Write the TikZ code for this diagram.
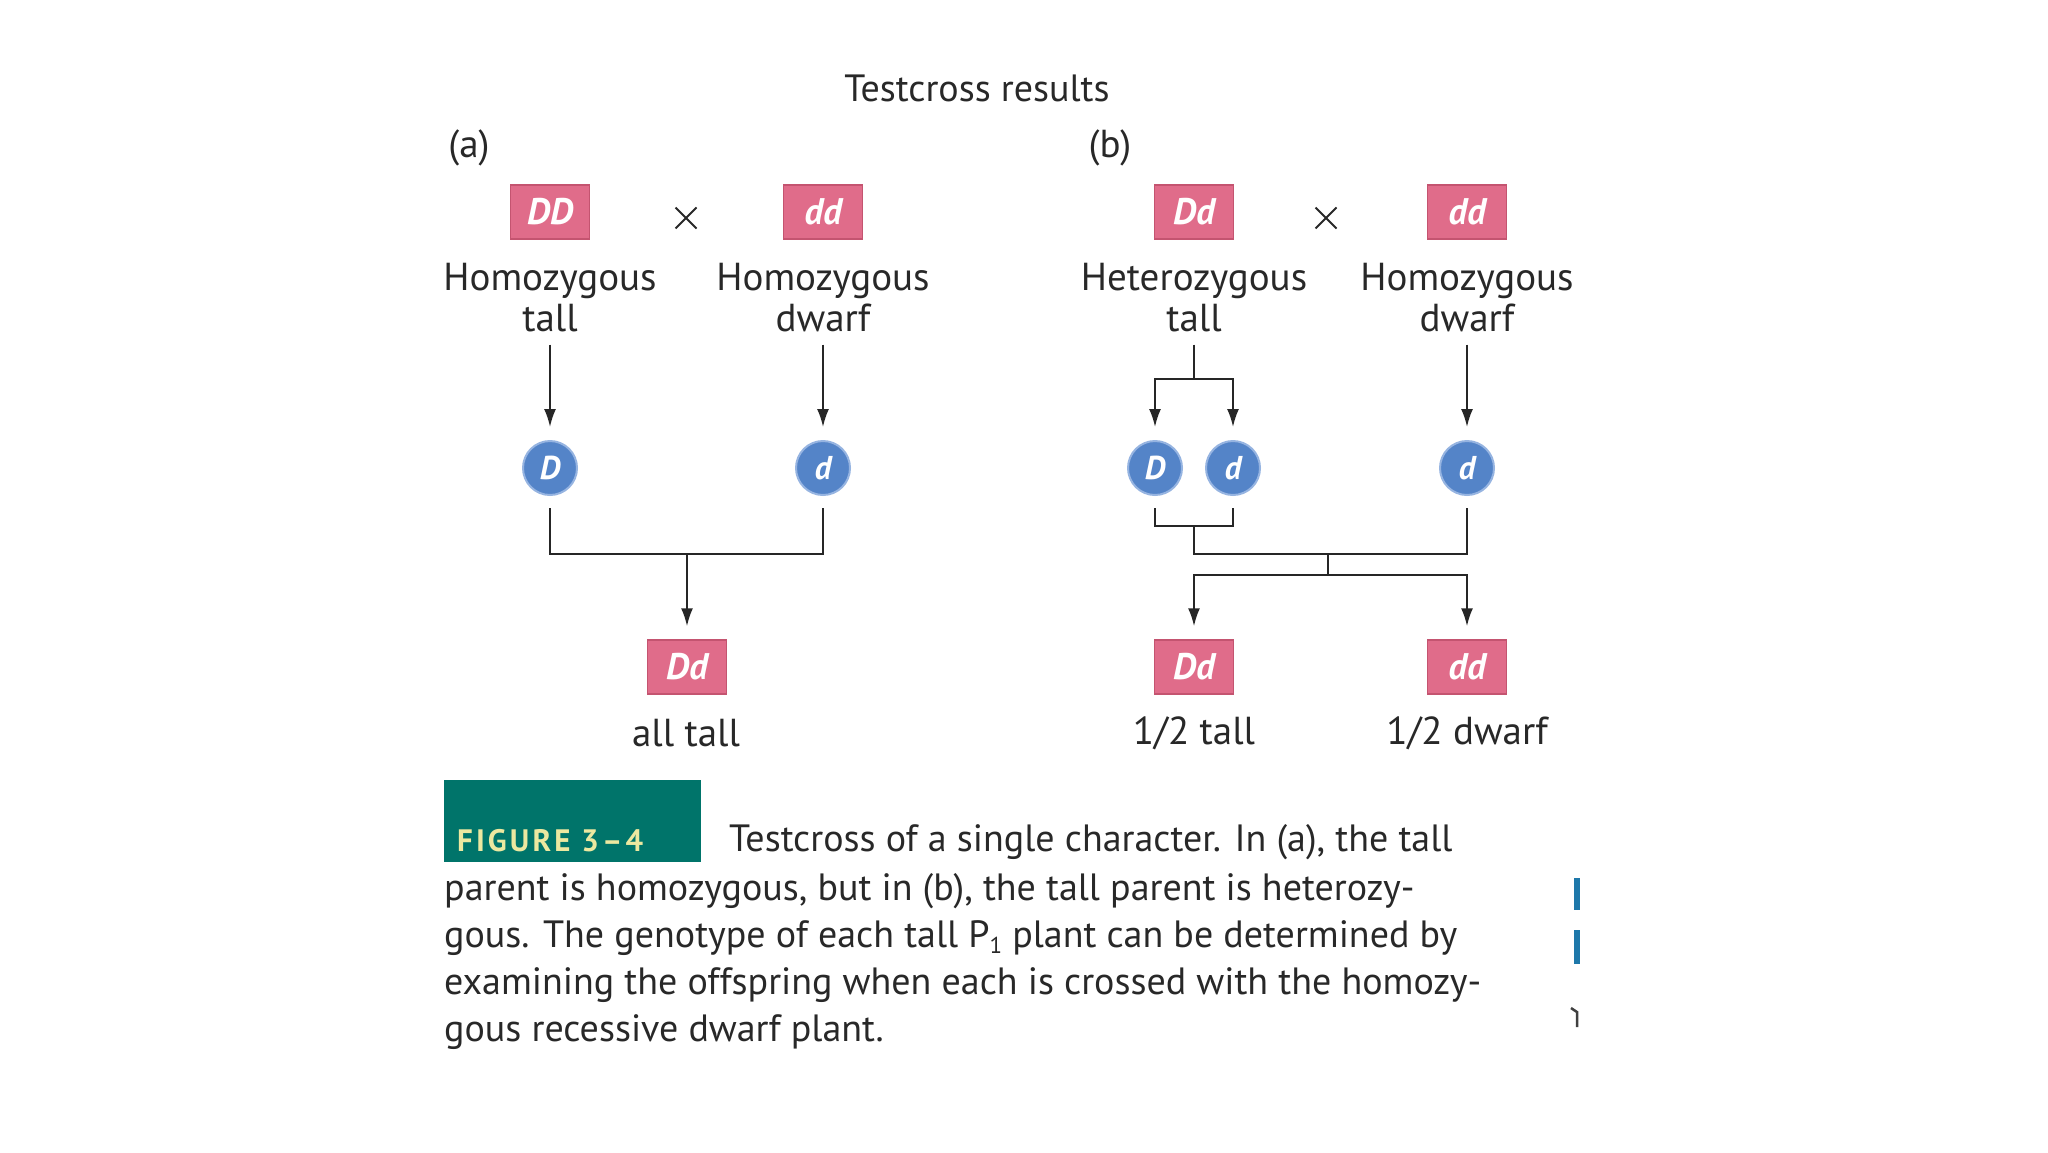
\documentclass[tikz,border=0pt]{standalone}
\usepackage{fontspec}
\setmainfont{PT Sans}
\newfontfamily\capfont{PT Sans}
\newfontfamily\figfont{PT Sans}[LetterSpace=10]
\usetikzlibrary{arrows.meta,shapes.misc}
\definecolor{pinkc}{RGB}{224,108,138}
\definecolor{pinkd}{RGB}{196,84,112}
\definecolor{bluec}{RGB}{84,132,200}
\definecolor{bluel}{RGB}{150,180,225}
\definecolor{tealc}{RGB}{0,116,106}
\definecolor{figy}{RGB}{236,232,160}
\definecolor{txt}{RGB}{40,40,40}
\definecolor{edgeb}{RGB}{30,120,170}
\begin{document}
\begin{tikzpicture}[x=1pt,y=-1pt,
 gbox/.style={fill=pinkc,draw=pinkd,line width=1.5pt,minimum width=79pt,minimum height=54pt,inner sep=0pt,text=white,font=\fontsize{37}{37}\selectfont\bfseries\itshape},
 allele/.style={circle,fill=bluec,draw=bluel,line width=2pt,minimum size=54pt,inner sep=0pt,text=white,font=\fontsize{33}{33}\selectfont\bfseries\itshape},
 lbl/.style={align=center,inner sep=0pt,text=txt,font=\fontsize{39}{41}\selectfont},
 crs/.style={cross out,draw=txt,line width=2pt,minimum size=19pt,inner sep=0pt},
 conn/.style={line width=2pt,draw=black!85},
 arr/.style={conn,-{Latex[length=18pt,width=12pt]}},
 capl/.style={anchor=base west,inner sep=0pt,text=txt,font=\capfont\fontsize{38}{47}\selectfont}
]
\path[use as bounding box,fill=white] (0,0) rectangle (2048,1152);

\node[lbl,font=\fontsize{38}{38}\selectfont] (title) at (977,88) {Testcross results};
\node[lbl] (la) at (469,148) {(a)};
\node[lbl] (lb) at (1110,148) {(b)};

% (a)
\node[gbox] (aDD) at (550,212) {DD};
\node[crs] (ax) at (686,218) {};
\node[gbox] (add) at (823,212) {dd};
\node[lbl] (aP1) at (550,298) {Homozygous\\tall};
\node[lbl] (aP2) at (823,298) {Homozygous\\dwarf};
\node[allele] (aD) at (550,468) {D};
\node[allele] (ad) at (823,468) {d};
\coordinate (aJ) at (687,554);
\node[gbox] (aDd) at (687,667) {Dd};
\node[lbl] (aR) at (686,733) {all tall};
\draw[arr,shorten <=12pt,shorten >=13pt] (aP1) -- (aD);
\draw[arr,shorten <=12pt,shorten >=13pt] (aP2) -- (ad);
\draw[conn,shorten <=12pt,shorten >=12pt] (aD) |- (aJ) -| (ad);
\draw[arr,shorten >=13pt] (aJ) -- (aDd);

% (b)
\node[gbox] (bDd) at (1194,212) {Dd};
\node[crs] (bx) at (1326,218) {};
\node[gbox] (bdd) at (1467,212) {dd};
\node[lbl] (bP1) at (1194,298) {Heterozygous\\tall};
\node[lbl] (bP2) at (1467,298) {Homozygous\\dwarf};
\coordinate (bS) at (1194,379);
\node[allele] (bD) at (1155,468) {D};
\node[allele] (bd) at (1233,468) {d};
\node[allele] (bd2) at (1467,468) {d};
\coordinate (bM) at (1194,526);
\coordinate (bJ) at (1328,554);
\coordinate (bK) at (1328,575);
\node[gbox] (bODd) at (1194,667) {Dd};
\node[gbox] (bOdd) at (1467,667) {dd};
\node[lbl] (bR1) at (1194,733) {1/2 tall};
\node[lbl] (bR2) at (1467,733) {1/2 dwarf};
\draw[conn,shorten <=12pt] (bP1) -- (bS);
\draw[arr,shorten >=13pt] (bS) -| (bD);
\draw[arr,shorten >=13pt] (bS) -| (bd);
\draw[arr,shorten <=12pt,shorten >=13pt] (bP2) -- (bd2);
\draw[conn,shorten <=12pt,shorten >=12pt] (bD) |- (bM) -| (bd);
\draw[conn,shorten >=12pt] (bM) |- (bJ) -| (bd2);
\draw[conn] (bJ) -- (bK);
\draw[arr,shorten >=13pt] (bK) -| (bODd);
\draw[arr,shorten >=13pt] (bK) -| (bOdd);

% caption
\node[fill=tealc,minimum width=257pt,minimum height=82pt,anchor=north west,inner sep=0pt] (figbox) at (444,780) {};
\node[anchor=base west,inner sep=0pt,text=figy,font=\figfont\bfseries\fontsize{31}{31}\selectfont] (fig) at (457,851) {FIGURE 3–4};
\node[capl] (cap1) at (729,851) {Testcross of a single character. In (a), the tall};
\node[capl] (cap2) at (444,900) {parent is homozygous, but in (b), the tall parent is heterozy-};
\node[capl] (cap3) at (444,947) {gous. The genotype of each tall P\raisebox{-6pt}{\fontsize{23}{23}\selectfont 1} plant can be determined by};
\node[capl] (cap4) at (444,994) {examining the offspring when each is crossed with the homozy-};
\node[capl] (cap5) at (444,1041) {gous recessive dwarf plant.};

% page-edge marks
\fill[edgeb] (1574,878) rectangle (1580,910);
\fill[edgeb] (1574,930) rectangle (1580,964);
\draw[line width=2.5pt,black!75] (1571,1008) -- (1577,1012) -- (1577,1027);
\end{tikzpicture}
\end{document}
